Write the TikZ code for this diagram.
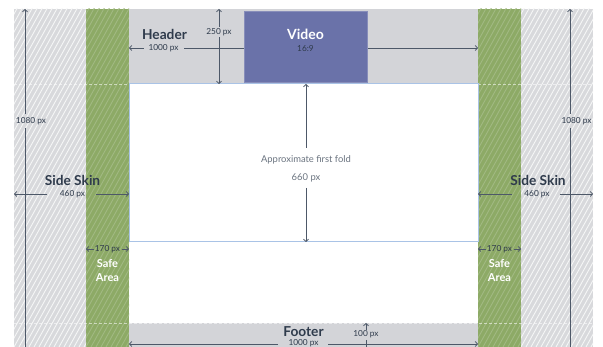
\documentclass[tikz,border=0pt]{standalone}
\usepackage{fontspec}
\setmainfont{Lato}
\usetikzlibrary{arrows.meta}

\definecolor{skin}{HTML}{D8D9DC}
\definecolor{safe}{HTML}{8DAA66}
\definecolor{band}{HTML}{D3D4D8}
\definecolor{video}{HTML}{6A72A9}
\definecolor{ink}{HTML}{2F3B4C}
\definecolor{dim}{HTML}{4D5868}
\definecolor{fold}{HTML}{A9C3E6}
\definecolor{softtext}{HTML}{6B7480}

\tikzset{
  tip/.tip={Straight Barb[length=2.2pt,width=5pt]},
  dimline/.style={draw=dim, line width=0.8pt, -tip},
  dimplain/.style={draw=dim, line width=0.8pt},
  dimboth/.style={draw=dim, line width=0.8pt, tip-tip},
  title/.style={text=ink, font=\fontsize{13.7}{15}\selectfont\bfseries, inner sep=1pt},
  measure/.style={text=ink, font=\fontsize{8.3}{10}\selectfont, inner sep=1.5pt},
  safelabel/.style={text=white, font=\fontsize{11}{14}\selectfont\bfseries, align=center, inner sep=0pt},
  guide/.style={draw=white, line width=0.5pt, dash pattern=on 3pt off 2pt, opacity=0.55}
}

% Draws a diagonally hatched strip
\newcommand{\hatchstrip}[5]{% x1, x2, y1, y2, stripe colour
  \begin{scope}
    \clip (#1,#3) rectangle (#2,#4);
    \foreach \s in {-200,-195,...,160}
      \draw[#5, line width=0.9pt] (#1+\s,#4) -- ++(200,-360);
  \end{scope}
}

\begin{document}
\begin{tikzpicture}[x=1pt, y=-1pt]
  \useasboundingbox (0,0) rectangle (603,347);
  \fill[white] (0,0) rectangle (603,347);

  % side skins and safe areas
  \fill[skin] (14,9) rectangle (86,347);
  \fill[skin] (521,9) rectangle (593,347);
  \fill[safe] (86,9) rectangle (129,347);
  \fill[safe] (478,9) rectangle (521,347);
  \hatchstrip{14}{86}{9}{347}{white!75!skin}
  \hatchstrip{521}{593}{9}{347}{white!75!skin}
  \hatchstrip{86}{129}{9}{347}{white!18!safe}
  \hatchstrip{478}{521}{9}{347}{white!18!safe}

  % header and footer bands
  \fill[band] (129,9) rectangle (478,84);
  \fill[band] (129,323) rectangle (478,347);

  % faint guide lines at header bottom and footer top
  \draw[guide] (14,84) -- (129,84);
  \draw[guide] (478,84) -- (593,84);
  \draw[guide] (14,323) -- (593,323);

  % first-fold area
  \draw[fold, line width=1pt, fill=white] (129,84) rectangle (478,242);

  % named anchor points for the dimension lines
  \coordinate (hdrL) at (129,48);
  \coordinate (hdrR) at (478,48);
  \coordinate (hgtT) at (219,9);
  \coordinate (hgtB) at (219,84);
  \coordinate (foldT) at (306,84);
  \coordinate (foldB) at (306,242);
  \coordinate (lSkinL) at (14,194);
  \coordinate (lSkinR) at (129,194);
  \coordinate (rSkinL) at (478,194);
  \coordinate (rSkinR) at (593,194);
  \coordinate (lSafeL) at (86,249);
  \coordinate (lSafeR) at (129,249);
  \coordinate (rSafeL) at (478,249);
  \coordinate (rSafeR) at (521,249);
  \coordinate (lTallT) at (25,9);
  \coordinate (lTallB) at (25,347);
  \coordinate (rTallT) at (570,9);
  \coordinate (rTallB) at (570,347);
  \coordinate (ftrL) at (129,344);
  \coordinate (ftrR) at (478,344);
  \coordinate (ftrT) at (366,323);
  \coordinate (ftrB) at (366,347);

  % header width and height
  \draw[dimboth] (hdrL) -- (hdrR);
  \draw[dimboth] (hgtT) -- (hgtB);

  % video slot
  \node[draw=video!80!white, line width=0.6pt, fill=video, minimum width=123pt, minimum height=71pt, inner sep=0pt]
    (video) at (305.5,46.5) {};
  \node[text=white, font=\fontsize{14}{16}\selectfont\bfseries, inner sep=0pt] (vtitle) at (305.5,34) {Video};
  \node[text=ink, font=\fontsize{8.3}{10}\selectfont, inner sep=0pt] (vratio) at (305.5,49) {16:9};

  \node[title] (header) at (164.5,34) {Header};
  \node[measure, fill=band, inner xsep=5pt] (hdrw) at (163.5,48) {1000 px};
  \node[measure, fill=band, inner sep=0.8pt] (hdrh) at (219,32) {250 px};

  % full-height arrows on the skins, broken around their labels
  \node[measure, inner sep=0pt] (ltall) at (31,121) {1080 px};
  \node[measure, inner sep=0pt] (rtall) at (576.5,121) {1080 px};
  \draw[dimline] (ltall.north -| lTallT) ++(0,-3) -- (lTallT);
  \draw[dimplain] (ltall.south -| lTallB) ++(0,3) -- (lTallB);
  \draw[dimline] (rtall.north -| rTallT) ++(0,-3) -- (rTallT);
  \draw[dimplain] (rtall.south -| rTallB) ++(0,3) -- (rTallB);

  % first fold
  \node[text=softtext, font=\fontsize{9.4}{11}\selectfont, inner sep=0pt] (foldtxt) at (306,160) {Approximate first fold};
  \node[text=softtext, font=\fontsize{9.4}{11}\selectfont, inner sep=0pt] (foldpx) at (306,178) {660 px};
  \draw[dimline] (306,148) -- (foldT);
  \draw[dimline] (306,188) -- (foldB);

  % side skins
  \node[title] (lskin) at (72.5,180) {Side Skin};
  \node[title] (rskin) at (538,180) {Side Skin};
  \node[measure, inner sep=0pt] (lskinw) at (72.5,194) {460 px};
  \node[measure, inner sep=0pt] (rskinw) at (537,194) {460 px};
  \draw[dimline] (47,194) -- (lSkinL);
  \draw[dimline] (96,194) -- (lSkinR);
  \draw[dimline] (512,194) -- (rSkinL);
  \draw[dimline] (560,194) -- (rSkinR);

  % safe areas
  \node[measure, inner sep=0pt] (lsafew) at (107.5,249) {170 px};
  \node[measure, inner sep=0pt] (rsafew) at (499.5,249) {170 px};
  \draw[dimline] (93.5,249) -- (lSafeL);
  \draw[dimline] (121.5,249) -- (lSafeR);
  \draw[dimline] (485.5,249) -- (rSafeL);
  \draw[dimline] (513.5,249) -- (rSafeR);
  \node[safelabel] (lsafe) at (107.5,271) {Safe\\Area};
  \node[safelabel] (rsafe) at (499.5,271) {Safe\\Area};

  % footer
  \node[title] (footer) at (303.5,332) {Footer};
  \node[measure, inner sep=0pt] (ftrw) at (303.5,343.5) {1000 px};
  \node[measure, inner sep=0pt] (ftrh) at (366,334.5) {100 px};
  \draw[dimline] (278,344) -- (ftrL);
  \draw[dimline] (328,344) -- (ftrR);
  \draw[dimline] (366,330) -- (ftrT);
  \draw[dimplain] (366,340) -- (ftrB);
\end{tikzpicture}
\end{document}
